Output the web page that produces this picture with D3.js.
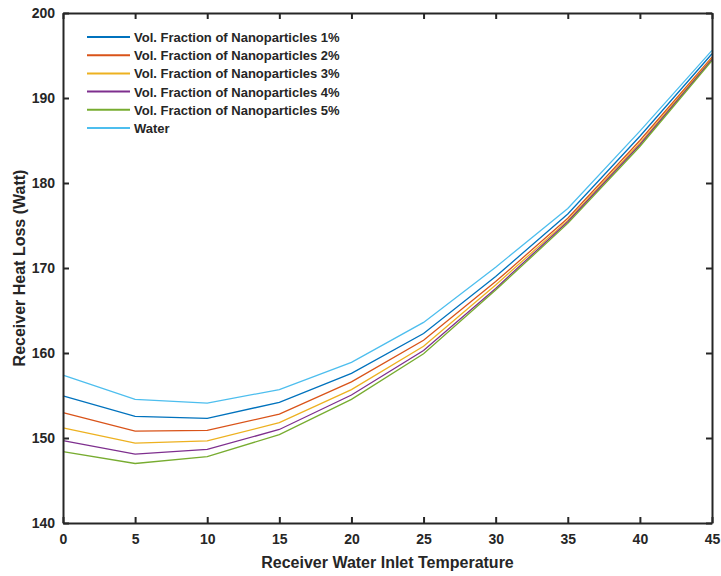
<!DOCTYPE html>
<html>
<head>
<meta charset="utf-8">
<script src="https://cdn.jsdelivr.net/npm/d3@7"></script>
<style>
  body { margin: 0; background: #fff; }
  text { font-family: "Liberation Sans", Arial, sans-serif; font-weight: bold; fill: #262626; }
</style>
</head>
<body>
<svg width="721" height="576"></svg>
<script>
// inlet temperature
var temps = [0, 5, 10, 15, 20, 25, 30, 35, 40, 45]

var names = [
	"Vol. Fraction of Nanoparticles 1%",
	"Vol. Fraction of Nanoparticles 2%",
	"Vol. Fraction of Nanoparticles 3%",
	"Vol. Fraction of Nanoparticles 4%",
	"Vol. Fraction of Nanoparticles 5%",
	"Water"
]

var frac1 = [154.95, 152.55, 152.3, 154.2, 157.6, 162.3, 169.0, 176.35, 185.5, 195.2]
var frac2 = [152.98, 150.8, 150.9, 152.8, 156.6, 161.5, 168.4, 175.85, 185.0, 194.8]
var frac3 = [151.2, 149.4, 149.65, 151.8, 155.7, 160.8, 168.0, 175.6, 184.7, 194.65]
var frac4 = [149.7, 148.1, 148.67, 151.0, 155.06, 160.3, 167.6, 175.45, 184.5, 194.55]
var frac5 = [148.4, 147.0, 147.8, 150.4, 154.55, 159.9, 167.4, 175.25, 184.3, 194.4]
var water = [157.4, 154.55, 154.1, 155.7, 158.9, 163.6, 170.1, 177.0, 186.1, 195.6]

var series = [frac1, frac2, frac3, frac4, frac5, water]
var colors = ["#0072BD", "#D95319", "#EDB120", "#7E2F8E", "#77AC30", "#4DBEEE"]

var xTicks = [0, 5, 10, 15, 20, 25, 30, 35, 40, 45]
var yTicks = [140, 150, 160, 170, 180, 190, 200]

var svg = d3.select("svg")
var plotLeft = 63, plotRight = 712, plotTop = 13, plotBottom = 523

var x = d3.scaleLinear().domain([0, 45]).range([plotLeft, plotRight])
var y = d3.scaleLinear().domain([140, 200]).range([plotBottom, plotTop])

var line = d3.line()
	.x(function (d, i) { return x(temps[i]) })
	.y(function (d) { return y(d) })

var lines_g = svg.append("g").attr("name", "lines")
series.forEach(function (s, k) {
	lines_g.append("path")
		.datum(s)
		.attr("d", line)
		.attr("fill", "none")
		.attr("stroke", colors[k])
		.attr("stroke-width", 1.3)
})

// axes, MATLAB style: box on, ticks pointing inward
var tickLen = 6
var axisColor = "#262626"

var bottomAxis = d3.axisBottom(x).tickValues(xTicks).tickSizeInner(-tickLen).tickSizeOuter(0).tickPadding(11)
var leftAxis = d3.axisLeft(y).tickValues(yTicks).tickSizeInner(-tickLen).tickSizeOuter(0).tickPadding(8)
var topAxis = d3.axisTop(x).tickValues(xTicks).tickSizeInner(-tickLen).tickSizeOuter(0).tickFormat("")
var rightAxis = d3.axisRight(y).tickValues(yTicks).tickSizeInner(-tickLen).tickSizeOuter(0).tickFormat("")

function styleAxis(g) {
	g.selectAll("path").attr("stroke", axisColor).attr("stroke-width", 2)
	g.selectAll("line").attr("stroke", axisColor).attr("stroke-width", 2)
	g.selectAll("text").attr("font-size", 14).attr("fill", axisColor)
		.style("font-family", "'Liberation Sans', Arial, sans-serif").style("font-weight", "bold")
}

svg.append("g").attr("transform", "translate(0," + plotBottom + ")").call(bottomAxis).call(styleAxis)
svg.append("g").attr("transform", "translate(" + plotLeft + ",0)").call(leftAxis).call(styleAxis)
svg.append("g").attr("transform", "translate(0," + plotTop + ")").call(topAxis).call(styleAxis)
svg.append("g").attr("transform", "translate(" + plotRight + ",0)").call(rightAxis).call(styleAxis)

// axis titles
svg.append("text")
	.attr("x", (plotLeft + plotRight) / 2)
	.attr("y", 568)
	.attr("text-anchor", "middle")
	.attr("font-size", 16)
	.text("Receiver Water Inlet Temperature")

svg.append("text")
	.attr("transform", "translate(25," + (plotTop + plotBottom) / 2 + ") rotate(-90)")
	.attr("text-anchor", "middle")
	.attr("font-size", 16)
	.text("Receiver Heat Loss (Watt)")

// legend
var legend_g = svg.append("g").attr("name", "legend")
names.forEach(function (n, k) {
	var ly = 37 + k * 18.2
	legend_g.append("line")
		.attr("x1", 87).attr("x2", 130)
		.attr("y1", ly).attr("y2", ly)
		.attr("stroke", colors[k])
		.attr("stroke-width", 2)
	legend_g.append("text")
		.attr("x", 134)
		.attr("y", ly + 5)
		.attr("font-size", 13)
		.attr("fill", "#000")
		.text(n)
})
</script>
</body>
</html>
